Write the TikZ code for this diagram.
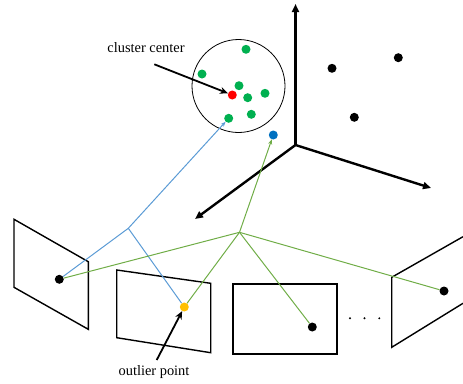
\documentclass[tikz,border=0pt]{standalone}
\usepackage{fontspec}
\setmainfont{Liberation Serif}
\usetikzlibrary{arrows.meta}
\definecolor{dgreen}{HTML}{00B050}
\definecolor{lgreen}{HTML}{70AD47}
\definecolor{lblue}{HTML}{5B9BD5}
\definecolor{dblue}{HTML}{0070C0}
\definecolor{dyellow}{HTML}{FFC000}
\begin{document}
\begin{tikzpicture}[x=1pt,y=-1pt,
  dot/.style={circle,inner sep=0pt,minimum size=9pt},
  axis/.style={line width=2.4pt,-{Triangle[length=8pt,width=7pt]}},
  frame/.style={line width=1.4pt,line join=miter},
  bluel/.style={lblue,line width=1pt},
  greenl/.style={lgreen,line width=1pt},
  tip/.style={-{Stealth[length=5pt,width=4pt]}},
  lbl/.style={font=\fontsize{14.4}{16}\selectfont,inner sep=0pt},
  pointer/.style={line width=1.8pt,-{Stealth[length=8pt,width=7pt]}}]
\useasboundingbox (0,0) rectangle (463,383);
% axes
\coordinate (o) at (295.5,145);
\coordinate (ax1) at (295.5,4);
\coordinate (ax2) at (431,188);
\coordinate (ax3) at (195,219);
\draw[axis] (o) -- (ax1);
\draw[axis] (o) -- (ax2);
\draw[axis] (o) -- (ax3);
% cluster circle
\node[circle,draw,line width=0.8pt,minimum size=93pt,inner sep=0pt] (cl) at (238.5,86) {};
% frames
\draw[frame] (14,219.3) -- (88.3,261.7) -- (88.3,329.3) -- (14,287.3) -- cycle;
\draw[frame] (116.7,270) -- (210.7,283.3) -- (210.7,352.7) -- (116.7,337.7) -- cycle;
\draw[line width=2pt] (232.7,284.3) rectangle (337,354.3);
\draw[frame] (463,236.7) -- (391.7,277.3) -- (391.7,347.3) -- (463,303.3);
% dots
\node[dot,fill=dgreen] (g1) at (246,49.3) {};
\node[dot,fill=dgreen] (g2) at (202,74) {};
\node[dot,fill=dgreen] (g3) at (239,85.7) {};
\node[dot,fill=dgreen] (g4) at (247.7,97.7) {};
\node[dot,fill=dgreen] (g5) at (265,93.3) {};
\node[dot,fill=dgreen] (g6) at (251.3,114.3) {};
\node[dot,fill=dgreen] (g7) at (228.7,118.3) {};
\node[dot,fill=red] (cc) at (232.3,95) {};
\node[dot,fill=dblue] (bd) at (273.3,135) {};
\node[dot,fill=black] (k1) at (332,68.3) {};
\node[dot,fill=black] (k2) at (398.3,57.7) {};
\node[dot,fill=black] (k3) at (354.3,117.3) {};
\node[dot,fill=black] (p1) at (59.3,279.3) {};
\node[dot,fill=dyellow] (p2) at (184.3,307) {};
\node[dot,fill=black] (p3) at (312.3,327) {};
\node[dot,fill=black] (p4) at (444,291) {};
% junctions
\coordinate (jb) at (128.3,228.3);
\coordinate (jg) at (239.5,232.3);
% blue lines
\draw[bluel] (p1) -- (jb);
\draw[bluel] (jb) -- (p2);
\draw[bluel,tip] (jb) -- (g7);
% green lines
\draw[greenl] (jg) -- (p1);
\draw[greenl] (jg) -- (p2);
\draw[greenl] (jg) -- (p3);
\draw[greenl] (jg) -- (p4);
\draw[greenl,tip] (jg) -- (bd);
% redraw dots on top
\foreach \n in {p1,p2,p3,p4} {}
% ellipsis dots
\node[circle,fill=black,inner sep=0pt,minimum size=2.2pt] (e1) at (350,318.3) {};
\node[circle,fill=black,inner sep=0pt,minimum size=2.2pt] (e2) at (364.5,318.3) {};
\node[circle,fill=black,inner sep=0pt,minimum size=2.2pt] (e3) at (379.3,318.3) {};
% labels
\node[lbl] (tcc) at (146,47.5) {cluster center};
\coordinate (tcs) at (154.3,64.3);
\draw[pointer] (tcs) -- (cc);
\node[lbl] (top) at (154,372.5) {outlier point};
\coordinate (tos) at (156.7,360);
\draw[pointer] (tos) -- (p2);
\end{tikzpicture}
\end{document}
